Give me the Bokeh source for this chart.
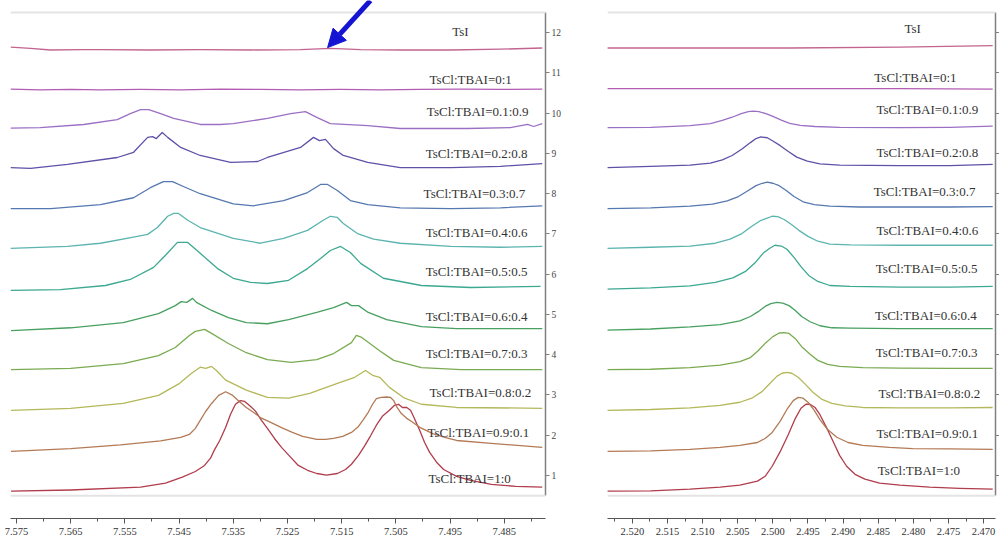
from bokeh.plotting import figure
from bokeh.layouts import row
from bokeh.models import Range1d, FixedTicker, PrintfTickFormatter, Span, Arrow, NormalHead, ColumnDataSource
from bokeh.embed import file_html
from bokeh.resources import INLINE
from bokeh.core.properties import value

# ---------------- data ----------------
samples = ["TsCl:TBAI=1:0", "TsCl:TBAI=0.9:0.1", "TsCl:TBAI=0.8:0.2", "TsCl:TBAI=0.7:0.3",
           "TsCl:TBAI=0.6:0.4", "TsCl:TBAI=0.5:0.5", "TsCl:TBAI=0.4:0.6", "TsCl:TBAI=0.3:0.7",
           "TsCl:TBAI=0.2:0.8", "TsCl:TBAI=0.1:0.9", "TsCl:TBAI=0:1", "TsI"]
offsets = [0.62, 1.61, 2.62, 3.62, 4.60, 5.61, 6.63, 7.63, 8.64, 9.63, 10.59, 11.63]
colors = ["#b03c4c", "#b47a55", "#b4b85a", "#7aab50", "#48a060", "#3ca890",
          "#5cb4b0", "#5678b0", "#5f50a8", "#9b6fc4", "#b45cb4", "#c2648f"]

# aromatic region (left panel), ppm and intensity per sample
ar_ppm_1_0 = [7.5760, 7.5650, 7.5521, 7.5475, 7.5444, 7.5420, 7.5403, 7.5392, 7.5385, 7.5375, 7.5364, 7.5355, 7.5346,
              7.5337, 7.5329, 7.5320, 7.5309, 7.5298, 7.5287, 7.5274, 7.5261, 7.5244, 7.5230, 7.5213, 7.5196, 7.5178,
              7.5158, 7.5143, 7.5132, 7.5119, 7.5108, 7.5097, 7.5086, 7.5075, 7.5062, 7.5053, 7.5045, 7.5038, 7.5030,
              7.5023, 7.5016, 7.5006, 7.4997, 7.4988, 7.4975, 7.4962, 7.4938, 7.4912, 7.4874, 7.4829, 7.4780]
ar_int_1_0 = [-0.01, 0.02, 0.09, 0.19, 0.34, 0.48, 0.63, 0.81, 1.01, 1.25, 1.58, 1.90, 2.15,
              2.24, 2.22, 2.12, 1.98, 1.75, 1.55, 1.30, 1.08, 0.83, 0.63, 0.51, 0.43, 0.39,
              0.43, 0.53, 0.66, 0.88, 1.11, 1.36, 1.63, 1.85, 2.00, 2.12, 2.15, 2.07, 2.07,
              2.00, 1.80, 1.50, 1.20, 0.96, 0.71, 0.53, 0.36, 0.26, 0.16, 0.11, 0.09]
ar_ppm_09_01 = [7.5760, 7.5650, 7.5558, 7.5484, 7.5447, 7.5431, 7.5420, 7.5411, 7.5401, 7.5390, 7.5377, 7.5364, 7.5351,
                7.5339, 7.5326, 7.5313, 7.5300, 7.5281, 7.5261, 7.5241, 7.5222, 7.5196, 7.5180, 7.5165, 7.5148, 7.5132,
                7.5119, 7.5110, 7.5101, 7.5093, 7.5086, 7.5077, 7.5067, 7.5060, 7.5054, 7.5049, 7.5040, 7.5030, 7.5021,
                7.5005, 7.4982, 7.4960, 7.4938, 7.4874, 7.4780]
ar_int_09_01 = [-0.01, 0.06, 0.15, 0.25, 0.34, 0.41, 0.56, 0.76, 0.98, 1.18, 1.38, 1.47, 1.38,
                1.23, 1.08, 0.96, 0.83, 0.71, 0.58, 0.46, 0.36, 0.29, 0.29, 0.31, 0.36, 0.46,
                0.61, 0.78, 0.96, 1.16, 1.30, 1.33, 1.34, 1.33, 1.25, 1.11, 0.93, 0.81, 0.73,
                0.58, 0.43, 0.34, 0.26, 0.19, 0.09]
ar_ppm_08_02 = [7.5760, 7.5650, 7.5553, 7.5488, 7.5449, 7.5427, 7.5411, 7.5401, 7.5390, 7.5381, 7.5364, 7.5326, 7.5287, 7.5248, 7.5209, 7.5158, 7.5126, 7.5106, 7.5093, 7.5080, 7.5062, 7.5034, 7.5003, 7.4938, 7.4780]
ar_int_08_02 = [0.00, 0.05, 0.17, 0.37, 0.67, 0.92, 1.07, 1.04, 1.09, 0.99, 0.75, 0.50, 0.32, 0.30, 0.42, 0.67, 0.82, 0.99, 0.87, 0.82, 0.57, 0.30, 0.15, 0.07, 0.05]
ar_ppm_07_03 = [7.5760, 7.5650, 7.5553, 7.5488, 7.5457, 7.5431, 7.5420, 7.5403, 7.5390, 7.5359, 7.5326, 7.5287, 7.5243, 7.5196, 7.5165, 7.5132, 7.5123, 7.5113, 7.5080, 7.5054, 7.5003, 7.4930, 7.4780]
ar_int_07_03 = [0.01, 0.04, 0.16, 0.36, 0.56, 0.86, 0.96, 1.01, 0.91, 0.66, 0.43, 0.26, 0.19, 0.26, 0.41, 0.68, 0.86, 0.81, 0.48, 0.24, 0.06, 0.01, 0.01]
ar_ppm_06_04 = [7.5760, 7.5650, 7.5553, 7.5488, 7.5457, 7.5446, 7.5436, 7.5425, 7.5418, 7.5390, 7.5359, 7.5326, 7.5287, 7.5248, 7.5196, 7.5165, 7.5141, 7.5132, 7.5119, 7.5101, 7.5067, 7.5003, 7.4938, 7.4780]
ar_int_06_04 = [0.00, 0.07, 0.20, 0.42, 0.62, 0.72, 0.70, 0.80, 0.70, 0.50, 0.32, 0.20, 0.17, 0.27, 0.45, 0.57, 0.70, 0.62, 0.62, 0.45, 0.27, 0.10, 0.05, 0.05]
ar_ppm_05_05 = [7.5761, 7.5669, 7.5586, 7.5540, 7.5497, 7.5475, 7.5453, 7.5434, 7.5411, 7.5379, 7.5350, 7.5318, 7.5287, 7.5248, 7.5213, 7.5189, 7.5171, 7.5152, 7.5134, 7.5115, 7.5073, 7.5003, 7.4912, 7.4783]
ar_int_05_05 = [-0.01, 0.01, 0.11, 0.26, 0.56, 0.86, 1.18, 1.18, 0.91, 0.53, 0.29, 0.19, 0.16, 0.24, 0.53, 0.78, 0.98, 1.08, 0.93, 0.66, 0.29, 0.11, 0.06, 0.09]
ar_ppm_04_06 = [7.5761, 7.5656, 7.5595, 7.5534, 7.5508, 7.5490, 7.5471, 7.5460, 7.5451, 7.5434, 7.5411, 7.5350, 7.5300, 7.5257, 7.5213, 7.5184, 7.5171, 7.5158, 7.5147, 7.5121, 7.5091, 7.5042, 7.4949, 7.4857, 7.4780]
ar_int_04_06 = [0.01, 0.06, 0.14, 0.29, 0.36, 0.53, 0.81, 0.88, 0.88, 0.71, 0.53, 0.26, 0.14, 0.26, 0.46, 0.71, 0.81, 0.78, 0.63, 0.38, 0.24, 0.14, 0.06, 0.04, 0.06]
ar_ppm_03_07 = [7.5761, 7.5687, 7.5595, 7.5534, 7.5503, 7.5479, 7.5462, 7.5442, 7.5411, 7.5350, 7.5313, 7.5257, 7.5213, 7.5189, 7.5176, 7.5158, 7.5134, 7.5102, 7.5042, 7.4949, 7.4857, 7.4780]
ar_int_03_07 = [0.00, 0.00, 0.10, 0.27, 0.52, 0.67, 0.67, 0.55, 0.37, 0.12, 0.07, 0.20, 0.40, 0.60, 0.60, 0.45, 0.20, 0.10, 0.02, 0.00, 0.02, 0.07]
ar_ppm_02_08 = [7.5761, 7.5724, 7.5656, 7.5564, 7.5534, 7.5508, 7.5499, 7.5492, 7.5481, 7.5471, 7.5447, 7.5411, 7.5355, 7.5305, 7.5287, 7.5226, 7.5202, 7.5191, 7.5180, 7.5165, 7.5147, 7.5102, 7.5042, 7.4949, 7.4857, 7.4780]
ar_int_02_08 = [0.01, -0.01, 0.09, 0.26, 0.39, 0.76, 0.78, 0.73, 0.88, 0.76, 0.51, 0.31, 0.14, 0.16, 0.26, 0.51, 0.76, 0.68, 0.71, 0.48, 0.31, 0.14, 0.01, 0.01, 0.04, 0.11]
ar_ppm_01_09 = [7.5761, 7.5706, 7.5626, 7.5564, 7.5540, 7.5521, 7.5506, 7.5484, 7.5460, 7.5411, 7.5374, 7.5350, 7.5287, 7.5244, 7.5217, 7.5195, 7.5171, 7.5102, 7.5042, 7.4986, 7.4918, 7.4839, 7.4807, 7.4796, 7.4780]
ar_int_01_09 = [0.00, 0.01, 0.09, 0.21, 0.36, 0.46, 0.46, 0.36, 0.24, 0.09, 0.09, 0.11, 0.24, 0.36, 0.41, 0.26, 0.11, 0.06, -0.01, -0.01, -0.01, 0.01, 0.09, 0.04, 0.11]
ar_ppm_0_1 = [7.5761, 7.5706, 7.5650, 7.5595, 7.5521, 7.5447, 7.5374, 7.5300, 7.5226, 7.5152, 7.5078, 7.5005, 7.4931, 7.4857, 7.4780]
ar_int_0_1 = [0.01, -0.01, 0.00, -0.01, 0.00, -0.01, 0.01, 0.00, -0.01, 0.00, -0.01, 0.00, 0.01, 0.00, 0.01]
ar_ppm_tsi = [7.5761, 7.5724, 7.5687, 7.5632, 7.5595, 7.5503, 7.5411, 7.5318, 7.5226, 7.5171, 7.5115, 7.5042, 7.4949, 7.4857, 7.4780]
ar_int_tsi = [0.01, -0.02, -0.06, -0.05, -0.05, -0.06, -0.05, -0.06, -0.05, -0.02, -0.05, -0.06, -0.06, -0.04, -0.01]

# methyl region (right panel)
me_ppm_1_0 = [2.5236, 2.5174, 2.5118, 2.5075, 2.5047, 2.5022, 2.5011, 2.5001, 2.4990, 2.4978, 2.4968, 2.4960, 2.4953, 2.4947,
              2.4940, 2.4933, 2.4923, 2.4913, 2.4905, 2.4895, 2.4883, 2.4869, 2.4848, 2.4819, 2.4777, 2.4734, 2.4687]
me_int_1_0 = [-0.01, 0.00, 0.04, 0.09, 0.14, 0.24, 0.36, 0.61, 0.96, 1.40, 1.80, 2.05, 2.15, 2.15,
              2.07, 1.89, 1.55, 1.18, 0.88, 0.61, 0.41, 0.29, 0.19, 0.14, 0.09, 0.06, 0.04]
me_ppm_09_01 = [2.5236, 2.5174, 2.5118, 2.5075, 2.5047, 2.5022, 2.5011, 2.5001, 2.4990, 2.4980, 2.4971, 2.4964, 2.4957, 2.4950,
                2.4941, 2.4933, 2.4922, 2.4909, 2.4893, 2.4872, 2.4834, 2.4801, 2.4748, 2.4687]
me_int_09_01 = [-0.01, 0.00, 0.04, 0.09, 0.14, 0.21, 0.31, 0.46, 0.73, 1.03, 1.25, 1.33, 1.31, 1.21,
                1.01, 0.78, 0.53, 0.34, 0.21, 0.14, 0.09, 0.06, 0.05, 0.04]
me_ppm_08_02 = [2.5236, 2.5174, 2.5118, 2.5075, 2.5047, 2.5030, 2.5015, 2.5004, 2.4994, 2.4987, 2.4980, 2.4973, 2.4964, 2.4954,
                2.4943, 2.4930, 2.4916, 2.4897, 2.4872, 2.4819, 2.4748, 2.4687]
me_int_08_02 = [0.00, 0.02, 0.06, 0.12, 0.20, 0.30, 0.47, 0.67, 0.85, 0.92, 0.94, 0.92, 0.82, 0.65,
                0.45, 0.27, 0.17, 0.11, 0.07, 0.06, 0.06, 0.07]
me_ppm_07_03 = [2.5236, 2.5174, 2.5118, 2.5075, 2.5047, 2.5032, 2.5021, 2.5010, 2.5000, 2.4991, 2.4984, 2.4977, 2.4968, 2.4959,
                2.4947, 2.4936, 2.4922, 2.4905, 2.4872, 2.4819, 2.4748, 2.4687]
me_int_07_03 = [0.01, 0.02, 0.06, 0.12, 0.21, 0.31, 0.48, 0.68, 0.83, 0.92, 0.93, 0.91, 0.78, 0.58,
                0.39, 0.24, 0.14, 0.09, 0.06, 0.05, 0.04, 0.04]
me_ppm_06_04 = [2.5236, 2.5174, 2.5118, 2.5075, 2.5047, 2.5032, 2.5021, 2.5011, 2.5003, 2.4994, 2.4986, 2.4977, 2.4968, 2.4959,
                2.4947, 2.4933, 2.4916, 2.4890, 2.4819, 2.4748, 2.4687]
me_int_06_04 = [0.01, 0.04, 0.09, 0.15, 0.24, 0.35, 0.47, 0.60, 0.67, 0.70, 0.68, 0.62, 0.50, 0.35,
                0.22, 0.12, 0.07, 0.06, 0.05, 0.05, 0.05]
me_ppm_05_05 = [2.5236, 2.5174, 2.5118, 2.5082, 2.5057, 2.5039, 2.5025, 2.5014, 2.5005, 2.4997, 2.4988, 2.4980, 2.4970, 2.4960,
                2.4949, 2.4936, 2.4919, 2.4890, 2.4819, 2.4748, 2.4687]
me_int_05_05 = [0.02, 0.05, 0.10, 0.19, 0.30, 0.46, 0.68, 0.91, 1.03, 1.11, 1.09, 1.01, 0.81, 0.58,
                0.36, 0.21, 0.11, 0.09, 0.07, 0.07, 0.09]
me_ppm_04_06 = [2.5236, 2.5174, 2.5118, 2.5082, 2.5061, 2.5044, 2.5030, 2.5018, 2.5010, 2.5001, 2.4993, 2.4984, 2.4974, 2.4963,
                2.4950, 2.4936, 2.4919, 2.4890, 2.4819, 2.4748, 2.4687]
me_int_04_06 = [0.01, 0.04, 0.07, 0.14, 0.24, 0.38, 0.56, 0.70, 0.75, 0.81, 0.80, 0.73, 0.61, 0.46,
                0.31, 0.19, 0.12, 0.10, 0.09, 0.09, 0.09]
me_ppm_03_07 = [2.5236, 2.5174, 2.5118, 2.5086, 2.5065, 2.5049, 2.5035, 2.5024, 2.5015, 2.5008, 2.5000, 2.4991, 2.4981, 2.4970,
                2.4957, 2.4941, 2.4919, 2.4876, 2.4819, 2.4748, 2.4687]
me_int_03_07 = [0.00, 0.02, 0.06, 0.11, 0.19, 0.30, 0.45, 0.57, 0.63, 0.66, 0.63, 0.57, 0.45, 0.30,
                0.17, 0.10, 0.06, 0.04, 0.04, 0.04, 0.05]
me_ppm_02_08 = [2.5236, 2.5174, 2.5118, 2.5089, 2.5072, 2.5058, 2.5044, 2.5032, 2.5024, 2.5017, 2.5008, 2.5000, 2.4990, 2.4978,
                2.4966, 2.4951, 2.4933, 2.4905, 2.4819, 2.4748, 2.4687]
me_int_02_08 = [0.01, 0.04, 0.07, 0.12, 0.20, 0.31, 0.47, 0.63, 0.73, 0.77, 0.75, 0.67, 0.56, 0.41,
                0.27, 0.17, 0.10, 0.07, 0.06, 0.06, 0.09]
me_ppm_01_09 = [2.5236, 2.5174, 2.5118, 2.5089, 2.5072, 2.5058, 2.5045, 2.5035, 2.5028, 2.5020, 2.5010, 2.5000, 2.4988, 2.4976,
                2.4961, 2.4940, 2.4905, 2.4819, 2.4748, 2.4687]
me_int_01_09 = [0.01, 0.02, 0.06, 0.11, 0.19, 0.27, 0.36, 0.41, 0.42, 0.41, 0.36, 0.29, 0.20, 0.12,
                0.07, 0.04, 0.02, 0.01, 0.02, 0.05]
me_ppm_0_1 = [2.5236, 2.5103, 2.4961, 2.4819, 2.4687]
me_int_0_1 = [0.02, 0.02, 0.02, 0.02, 0.01]
me_ppm_tsi = [2.5236, 2.5103, 2.4976, 2.4819, 2.4687]
me_int_tsi = [-0.01, -0.01, -0.01, 0.01, 0.05]

ar_ticks = [7.575, 7.565, 7.555, 7.545, 7.535, 7.525, 7.515, 7.505, 7.495, 7.485]
me_ticks = [2.525, 2.520, 2.515, 2.510, 2.505, 2.500, 2.495, 2.490, 2.485, 2.480, 2.475, 2.470]
stack_ticks = [1, 2, 3, 4, 5, 6, 7, 8, 9, 10, 11, 12]

# annotation arrow (left panel)
arrow_tail = (7.5097, 12.80)
arrow_tip = (7.5176, 11.63)

# ---------------- layout / styling ----------------
ar_ppm = [ar_ppm_1_0, ar_ppm_09_01, ar_ppm_08_02, ar_ppm_07_03, ar_ppm_06_04, ar_ppm_05_05,
          ar_ppm_04_06, ar_ppm_03_07, ar_ppm_02_08, ar_ppm_01_09, ar_ppm_0_1, ar_ppm_tsi]
ar_int = [ar_int_1_0, ar_int_09_01, ar_int_08_02, ar_int_07_03, ar_int_06_04, ar_int_05_05,
          ar_int_04_06, ar_int_03_07, ar_int_02_08, ar_int_01_09, ar_int_0_1, ar_int_tsi]
me_ppm = [me_ppm_1_0, me_ppm_09_01, me_ppm_08_02, me_ppm_07_03, me_ppm_06_04, me_ppm_05_05,
          me_ppm_04_06, me_ppm_03_07, me_ppm_02_08, me_ppm_01_09, me_ppm_0_1, me_ppm_tsi]
me_int = [me_int_1_0, me_int_09_01, me_int_08_02, me_int_07_03, me_int_06_04, me_int_05_05,
          me_int_04_06, me_int_03_07, me_int_02_08, me_int_01_09, me_int_0_1, me_int_tsi]

# label anchor positions (layout)
ar_label_x = [7.4914, 7.4898, 7.4894, 7.4901, 7.4901, 7.4901, 7.4901, 7.4905, 7.4901, 7.4899, 7.4912, 7.4931]
ar_label_y = [0.93, 2.07, 3.06, 4.03, 4.95, 6.07, 7.04, 8.01, 9.00, 10.04, 10.83, 12.03]
me_label_x = [2.4792, 2.4780, 2.4777, 2.4781, 2.4782, 2.4781, 2.4780, 2.4784, 2.4780, 2.4780, 2.4797, 2.4801]
me_label_y = [1.12, 2.04, 3.04, 4.06, 4.98, 6.14, 7.09, 8.06, 9.03, 10.09, 10.89, 12.11]

Y_RANGE = (-0.068, 12.80)
SERIF = "Liberation Serif"


def panel(width, bl, br, xr, ppm_sets, int_sets, majors, minor_step, lx, ly, show_ylabels):
    p = figure(width=width, height=542, output_backend="svg", toolbar_location=None,
               x_range=Range1d(*xr), y_range=Range1d(*Y_RANGE),
               y_axis_location="right", min_border_left=bl, min_border_right=br,
               min_border_top=0, min_border_bottom=24)
    p.outline_line_color = None
    p.grid.visible = False
    p.background_fill_color = "white"
    p.border_fill_color = "white"

    for k in range(len(samples)):
        ys = [offsets[k] + v for v in int_sets[k]]
        p.line(ppm_sets[k], ys, line_color=colors[k], line_width=1.3, line_join="round")

    src = ColumnDataSource(dict(x=lx, y=ly, t=samples))
    p.text(x="x", y="y", text="t", source=src, text_font=value(SERIF), text_font_size="13px",
           text_align="center", text_baseline="middle", text_color="#333333")

    for loc in (0.5, 12.5):
        p.add_layout(Span(location=loc, dimension="width", line_color="#e4e4e4", line_width=2))

    minors = []
    for t in majors:
        minors += [t - minor_step, t + minor_step]
    xa = p.xaxis[0]
    xa.ticker = FixedTicker(ticks=majors, minor_ticks=sorted(set(round(m, 5) for m in minors)))
    xa.formatter = PrintfTickFormatter(format="%.3f")
    xa.axis_line_color = "#555555"
    xa.axis_line_width = 1.2
    xa.major_tick_line_color = "#555555"
    xa.minor_tick_line_color = "#555555"
    xa.major_tick_in = 0
    xa.major_tick_out = 5
    xa.minor_tick_in = 0
    xa.minor_tick_out = 3
    xa.major_label_text_font = SERIF
    xa.major_label_text_font_size = "10.5px"
    xa.major_label_text_color = "#333333"
    xa.major_label_standoff = 4

    ya = p.yaxis[0]
    ya.ticker = FixedTicker(ticks=stack_ticks)
    ya.bounds = (0.5, 12.5)
    ya.axis_line_color = "#808080"
    ya.axis_line_width = 1.5
    ya.major_tick_line_color = "#808080"
    ya.major_tick_in = 0
    ya.major_tick_out = 4
    ya.minor_tick_line_color = None
    ya.major_label_text_font = SERIF
    ya.major_label_text_font_size = "9.5px"
    ya.major_label_text_color = "#444444"
    ya.major_label_standoff = 2
    if not show_ylabels:
        ya.major_label_overrides = {t: "" for t in stack_ticks}
        ya.major_label_standoff = 0
    return p


left = panel(600, 10, 55, (7.5761, 7.4774), ar_ppm, ar_int, ar_ticks, 0.005, ar_label_x, ar_label_y, True)
blue = "#1414d2"
left.add_layout(Arrow(end=NormalHead(size=18, fill_color=blue, line_color=blue),
                      x_start=arrow_tail[0], y_start=arrow_tail[1],
                      x_end=arrow_tip[0], y_end=arrow_tip[1],
                      line_color=blue, line_width=5))

right = panel(399, 7, 3, (2.52355, 2.4683), me_ppm, me_int, me_ticks, 0.0025, me_label_x, me_label_y, False)

layout = row(left, right)
open("out.html", "w").write(file_html(layout, INLINE))
